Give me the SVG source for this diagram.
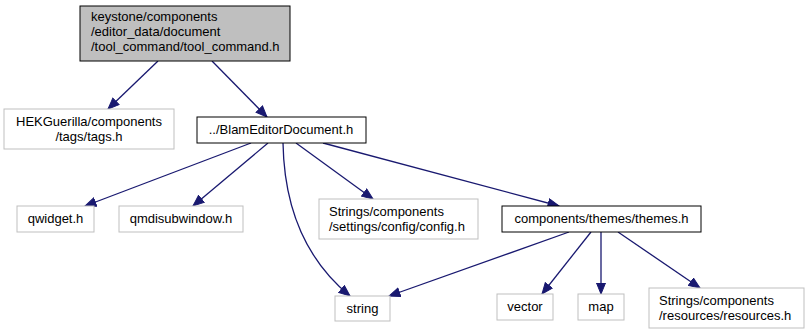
<svg xmlns="http://www.w3.org/2000/svg" width="809" height="335" viewBox="0 0 809 335">
<defs>
<style>
.n rect{fill:#ffffff;stroke:#bfbfbf;stroke-width:1}
.n.d rect{stroke:#000000}
.n.r rect{fill:#bfbfbf;stroke:#000000}
.n text{font-family:"Liberation Sans",Arial,sans-serif;font-size:13px;fill:#000000}
.c{text-anchor:middle}
.e path{fill:none;stroke:#191970;stroke-width:1.3;marker-end:url(#ah)}
</style>
<marker id="ah" markerUnits="userSpaceOnUse" markerWidth="13" markerHeight="11" refX="11.5" refY="5" orient="auto">
<path d="M0.5,0.5 L11.5,5 L0.5,9.5 z" fill="#191970" stroke="#191970" stroke-width="1"/>
</marker>
</defs>
<rect width="809" height="335" fill="#ffffff"/>
<g id="edges" class="e">
<path d="M158,61 L108,109"/>
<path d="M212,61 L267,117"/>
<path d="M251,143 L85,206"/>
<path d="M268,143 L193,206"/>
<path d="M283,143 C284,200 300,255 350,296"/>
<path d="M296,143 L373,199"/>
<path d="M323,143 L559,206"/>
<path d="M569,232 L389,296"/>
<path d="M591,232 L542,294"/>
<path d="M601,232 L601,294"/>
<path d="M618,232 L700,288"/>
</g>
<g id="node_root" class="n r">
<rect x="80" y="6" width="210" height="55"/>
<text x="91" y="21">keystone/components</text>
<text x="91" y="36">/editor_data/document</text>
<text x="91" y="51">/tool_command/tool_command.h</text>
</g>
<g id="node_hek" class="n">
<rect x="4" y="109" width="170" height="40"/>
<text class="c" x="89" y="126">HEKGuerilla/components</text>
<text class="c" x="89" y="141">/tags/tags.h</text>
</g>
<g id="node_blam" class="n d">
<rect x="197" y="117" width="169" height="26"/>
<text class="c" x="281" y="134">../BlamEditorDocument.h</text>
</g>
<g id="node_qwidget" class="n">
<rect x="17" y="206" width="77" height="26"/>
<text class="c" x="55.5" y="223">qwidget.h</text>
</g>
<g id="node_qmdi" class="n">
<rect x="119" y="206" width="124" height="26"/>
<text class="c" x="181" y="223">qmdisubwindow.h</text>
</g>
<g id="node_config" class="n">
<rect x="319" y="199" width="159" height="40"/>
<text x="329" y="216">Strings/components</text>
<text x="329" y="231">/settings/config/config.h</text>
</g>
<g id="node_themes" class="n d">
<rect x="502" y="206" width="199" height="26"/>
<text class="c" x="601.5" y="223">components/themes/themes.h</text>
</g>
<g id="node_string" class="n">
<rect x="335" y="296" width="55" height="25"/>
<text class="c" x="362.5" y="313">string</text>
</g>
<g id="node_vector" class="n">
<rect x="497" y="294" width="56" height="26"/>
<text class="c" x="525" y="311">vector</text>
</g>
<g id="node_map" class="n">
<rect x="578" y="294" width="46" height="26"/>
<text class="c" x="601" y="311">map</text>
</g>
<g id="node_res" class="n">
<rect x="649" y="288" width="155" height="40"/>
<text x="659" y="305">Strings/components</text>
<text x="659" y="320">/resources/resources.h</text>
</g>
</svg>
